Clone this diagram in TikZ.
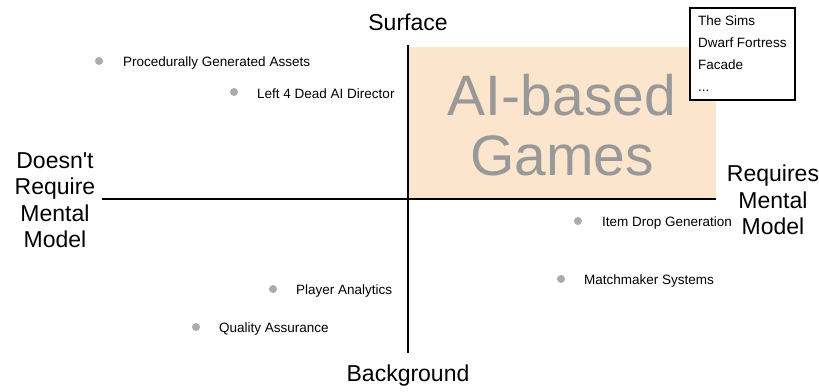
\documentclass[tikz,border=0pt]{standalone}
\usepackage{fontspec}
\setmainfont{Liberation Sans}
\usepackage{tikz}
\usetikzlibrary{positioning}
\definecolor{peach}{HTML}{FCE5CD}
\definecolor{bigtext}{HTML}{999999}
\definecolor{dotgray}{HTML}{ABABAB}
\tikzset{
	axis/.style={draw=black, line width=2pt},
	dot/.style={circle, fill=dotgray, inner sep=0pt, minimum size=8pt},
	item/.style={inner sep=0pt, anchor=west, yshift=-2pt, font=\fontsize{13.5}{16}\selectfont},
	axislabel/.style={align=center, inner sep=0pt, font=\fontsize{23}{26.5}\selectfont}
}

\begin{document}
\begin{tikzpicture}[x=1pt, y=-1pt]
\useasboundingbox (0,0) rectangle (819,391);

% quadrant
\fill[peach] (408,47) rectangle (716,199);
\node[text=bigtext, align=center, font=\fontsize{57}{60}\selectfont] (games) at (562,125) {AI-based\\Games};

% axes
\coordinate (top) at (408,45);
\coordinate (bottom) at (408,353);
\coordinate (left) at (102,199);
\coordinate (right) at (716,199);
\draw[axis] (top) -- (bottom);
\draw[axis] (left) -- (right);

\node[axislabel] (surface) at (408,22) {Surface};
\node[axislabel] (background) at (408,376) {Background};
\node[axislabel] (norequire) at (55,200) {Doesn\textquotesingle t\\Require\\Mental\\Model};
\node[axislabel] (require) at (773,200) {Requires\\Mental\\Model};

% examples
\node[draw=black, fill=white, line width=2pt, anchor=north west, inner xsep=8pt, inner ysep=8pt, align=left,
	font=\fontsize{13.5}{22}\selectfont] (examples) at (689,7) {The Sims\\Dwarf Fortress\\Facade\\...};

% points
\node[dot] (pga) at (99,61) {};
\node[item, right=24pt of pga.center] (pgalabel) {Procedurally Generated Assets};
\node[dot] (l4d) at (234,92) {};
\node[item, right=23pt of l4d.center] (l4dlabel) {Left 4 Dead AI Director};
\node[dot] (idg) at (578,221) {};
\node[item, right=24pt of idg.center] (idglabel) {Item Drop Generation};
\node[dot] (mms) at (561,279) {};
\node[item, right=23pt of mms.center] (mmslabel) {Matchmaker Systems};
\node[dot] (pa) at (273,289) {};
\node[item, right=23pt of pa.center] (palabel) {Player Analytics};
\node[dot] (qa) at (196,327) {};
\node[item, right=23pt of qa.center] (qalabel) {Quality Assurance};
\end{tikzpicture}
\end{document}
